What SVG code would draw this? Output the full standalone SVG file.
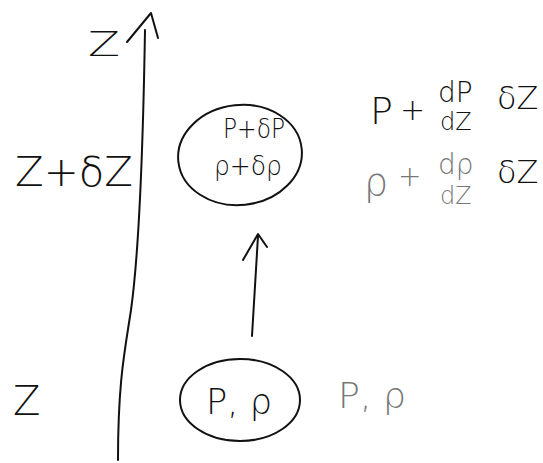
<svg xmlns="http://www.w3.org/2000/svg" width="543" height="463" viewBox="0 0 543 463">
<style>
.t{font-family:"DejaVu Sans","Liberation Sans",sans-serif;fill:#111;font-weight:300}
.g{fill:#777}
.s{fill:none;stroke:#111;stroke-width:2;stroke-linecap:round;stroke-linejoin:round}
</style>
<rect width="543" height="463" fill="#fff"/>
<g id="axis">
<path class="s" d="M145,30 C143,150 138,260 131,310 C125,350 118,380 118,460"/>
<path class="s" d="M127,42 L151,13 L158,38"/>
<text class="t" x="88" y="56" font-size="34" textLength="32" lengthAdjust="spacingAndGlyphs">Z</text>
<text class="t" x="15" y="186" font-size="40" textLength="118" lengthAdjust="spacingAndGlyphs">Z+δZ</text>
<text class="t" x="13" y="415" font-size="40">Z</text>
</g>
<g id="node-top">
<ellipse class="s" cx="240" cy="155" rx="62" ry="50" transform="rotate(-6 240 155)"/>
<text class="t" x="223" y="138" font-size="26" textLength="62" lengthAdjust="spacingAndGlyphs">P+δP</text>
<text class="t" x="214" y="175" font-size="26" textLength="68" lengthAdjust="spacingAndGlyphs">ρ+δρ</text>
</g>
<g id="node-bottom">
<ellipse class="s" cx="240" cy="400" rx="60" ry="41"/>
<text class="t" x="206" y="414" font-size="36" textLength="66" lengthAdjust="spacingAndGlyphs">P, ρ</text>
</g>
<g id="connectors">
<path class="s" d="M252,336 L258,236"/>
<path class="s" d="M243,260 L258,234 L267,247"/>
</g>
<g id="label-bottom">
<text class="t g" x="338" y="408" font-size="36" textLength="68" lengthAdjust="spacingAndGlyphs">P, ρ</text>
</g>
<g id="label-top">
<text class="t" x="370" y="124" font-size="38">P</text>
<text class="t" x="400" y="120" font-size="30">+</text>
<text class="t" x="438" y="102" font-size="28">dP</text>
<text class="t" x="440" y="130" font-size="24">dZ</text>
<text class="t" x="497" y="109" font-size="32">δZ</text>
<text class="t g" x="364" y="195" font-size="38">ρ</text>
<text class="t g" x="398" y="186" font-size="28">+</text>
<text class="t g" x="438" y="174" font-size="28">dρ</text>
<text class="t g" x="440" y="204" font-size="24">dZ</text>
<text class="t" x="497" y="183" font-size="32">δZ</text>
</g>
</svg>
